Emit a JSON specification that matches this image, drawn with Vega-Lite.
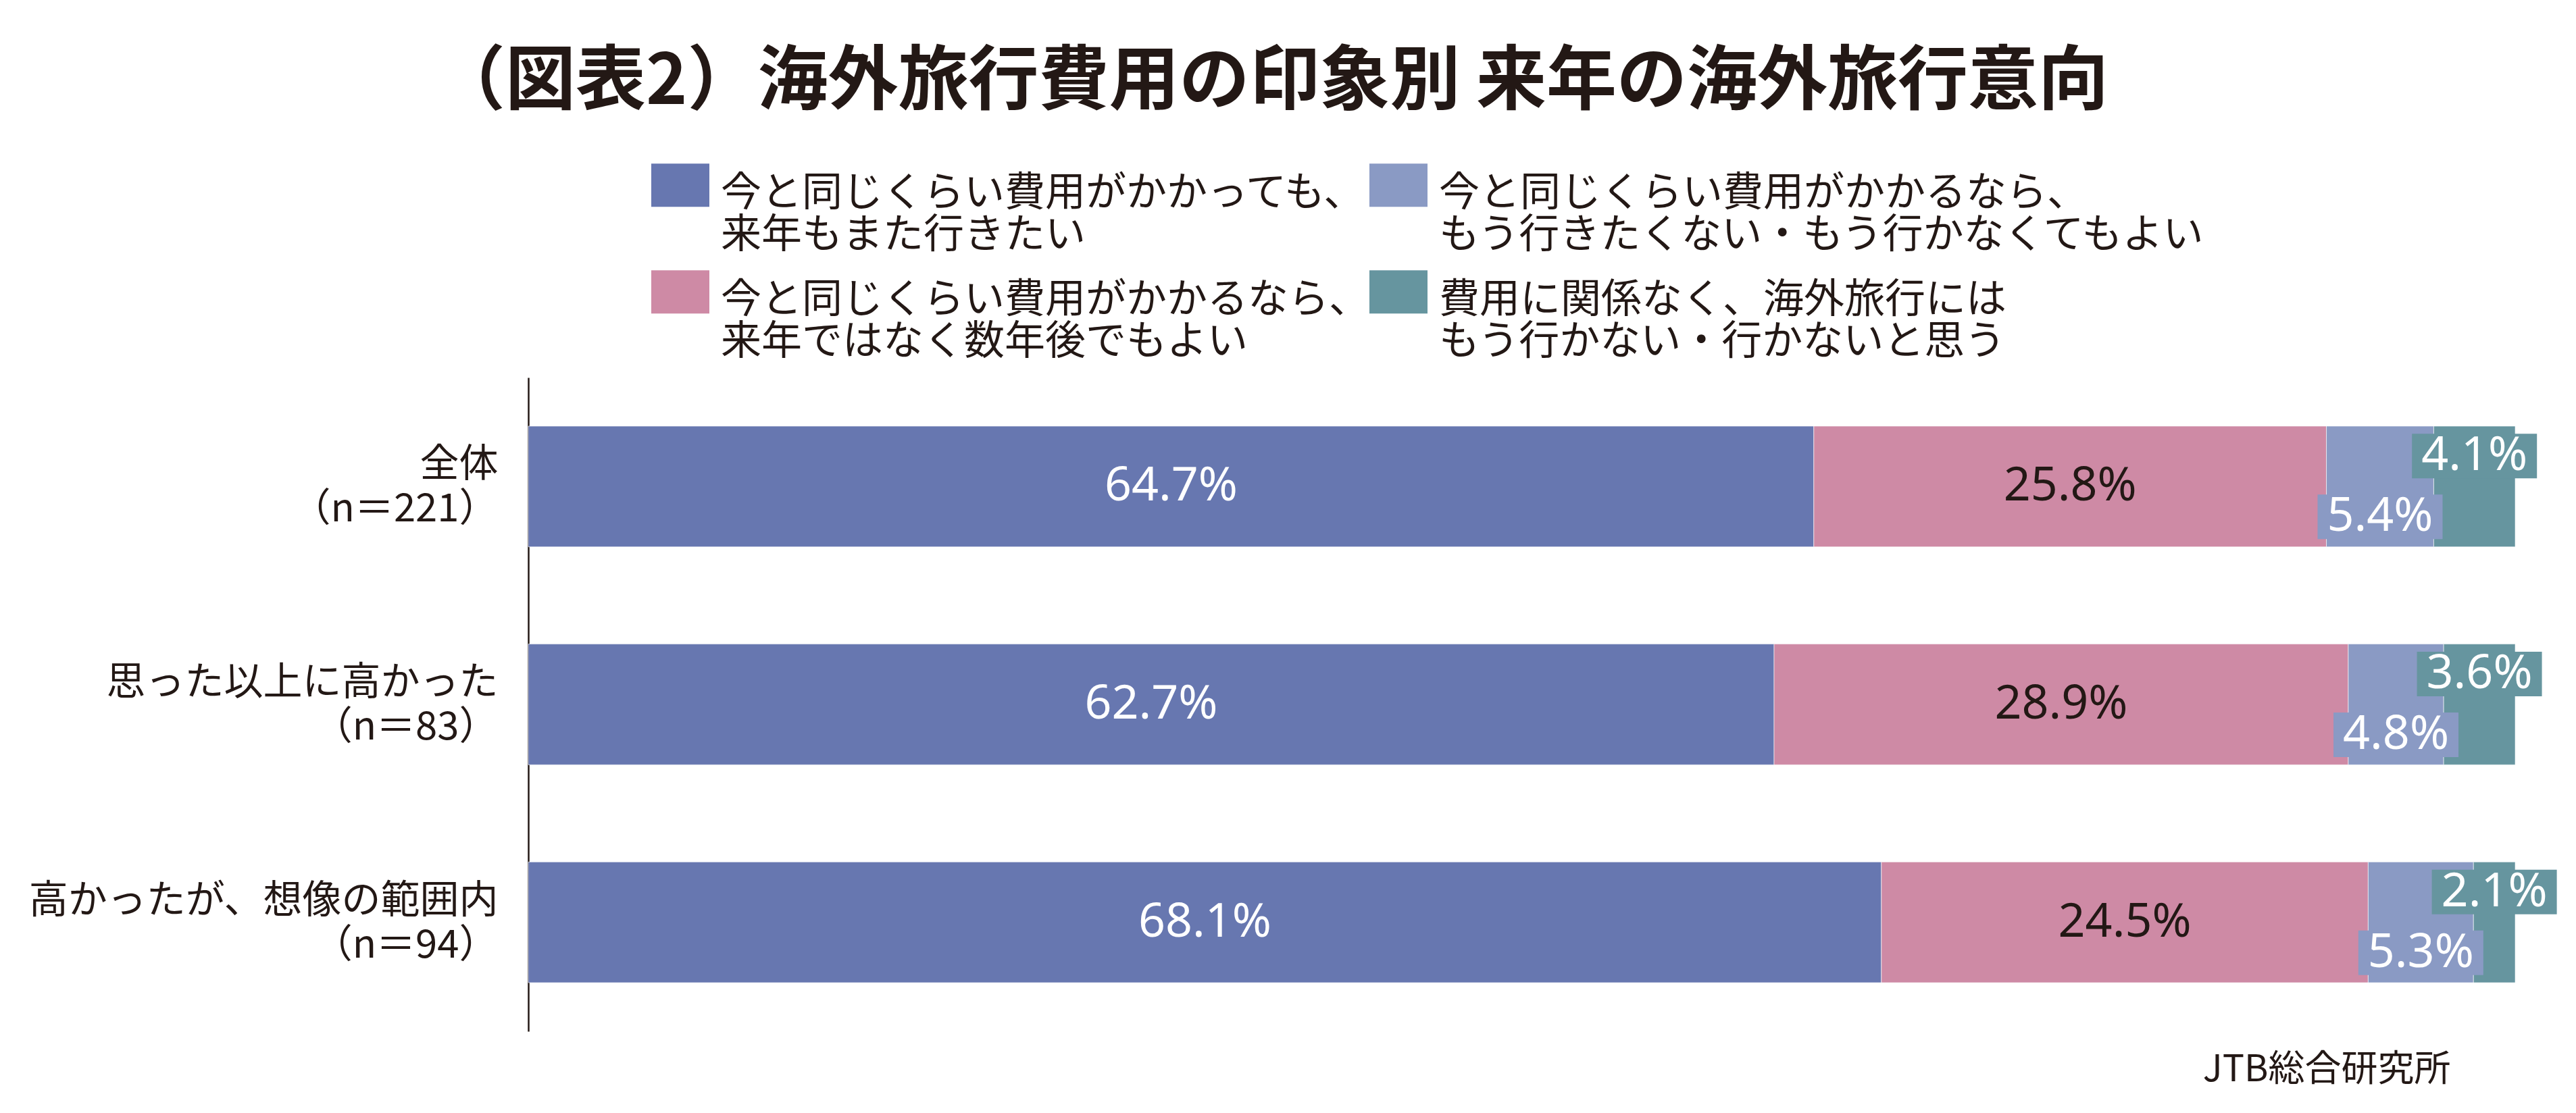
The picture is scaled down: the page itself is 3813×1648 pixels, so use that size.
{
  "$schema": "https://vega.github.io/schema/vega-lite/v6.json",
  "autosize": {"type": "none"},
  "width": 2941,
  "height": 968,
  "padding": {"left": 782, "top": 559, "right": 90, "bottom": 121},
  "background": "#ffffff",
  "config": {"view": {"stroke": null}},
  "title": {
    "text": "（図表2）海外旅行費用の印象別 来年の海外旅行意向",
    "font": "Noto Sans CJK JP",
    "fontWeight": "bold",
    "fontSize": 104,
    "color": "#231815",
    "anchor": "middle",
    "frame": "group",
    "dx": -370,
    "offset": 68
  },
  "data": {
    "values": [
      {"group": "全体\n（n＝221）", "category": "今と同じくらい費用がかかっても、\n来年もまた行きたい", "value": 0.647},
      {"group": "全体\n（n＝221）", "category": "今と同じくらい費用がかかるなら、\n来年ではなく数年後でもよい", "value": 0.258},
      {"group": "全体\n（n＝221）", "category": "今と同じくらい費用がかかるなら、\nもう行きたくない・もう行かなくてもよい", "value": 0.054},
      {"group": "全体\n（n＝221）", "category": "費用に関係なく、海外旅行には\nもう行かない・行かないと思う", "value": 0.041},
      {"group": "思った以上に高かった\n（n＝83）", "category": "今と同じくらい費用がかかっても、\n来年もまた行きたい", "value": 0.627},
      {"group": "思った以上に高かった\n（n＝83）", "category": "今と同じくらい費用がかかるなら、\n来年ではなく数年後でもよい", "value": 0.289},
      {"group": "思った以上に高かった\n（n＝83）", "category": "今と同じくらい費用がかかるなら、\nもう行きたくない・もう行かなくてもよい", "value": 0.048},
      {"group": "思った以上に高かった\n（n＝83）", "category": "費用に関係なく、海外旅行には\nもう行かない・行かないと思う", "value": 0.036},
      {"group": "高かったが、想像の範囲内\n（n＝94）", "category": "今と同じくらい費用がかかっても、\n来年もまた行きたい", "value": 0.681},
      {"group": "高かったが、想像の範囲内\n（n＝94）", "category": "今と同じくらい費用がかかるなら、\n来年ではなく数年後でもよい", "value": 0.245},
      {"group": "高かったが、想像の範囲内\n（n＝94）", "category": "今と同じくらい費用がかかるなら、\nもう行きたくない・もう行かなくてもよい", "value": 0.053},
      {"group": "高かったが、想像の範囲内\n（n＝94）", "category": "費用に関係なく、海外旅行には\nもう行かない・行かないと思う", "value": 0.021}
    ]
  },
  "transform": [
    {"calculate": "indexof(['今と同じくらい費用がかかっても、\\n来年もまた行きたい', '今と同じくらい費用がかかるなら、\\n来年ではなく数年後でもよい', '今と同じくらい費用がかかるなら、\\nもう行きたくない・もう行かなくてもよい', '費用に関係なく、海外旅行には\\nもう行かない・行かないと思う'], datum.category)", "as": "ord"},
    {"stack": "value", "groupby": ["group"], "sort": [{"field": "ord", "order": "ascending"}], "as": ["v0", "v1"]},
    {"calculate": "(datum.v0 + datum.v1) / 2", "as": "mid"}
  ],
  "encoding": {
    "y": {
      "field": "group",
      "type": "nominal",
      "sort": null,
      "scale": {"paddingInner": 0.446, "paddingOuter": 0.223},
      "axis": {
        "title": null,
        "labelExpr": "split(datum.label, '\\n')",
        "labelFont": "Noto Sans CJK JP",
        "labelFontSize": 58,
        "labelLineHeight": 66,
        "labelColor": "#231815",
        "labelPadding": 45,
        "labelOffset": -31,
        "labelLimit": 2000,
        "ticks": false,
        "domain": true,
        "domainColor": "#231815",
        "domainWidth": 2.5,
        "grid": false,
        "labelAlign": "right",
        "labelBaseline": "middle"
      }
    }
  },
  "layer": [
    {
      "mark": {"type": "bar", "stroke": "#ffffff", "strokeWidth": 1, "strokeOpacity": 0.6},
      "encoding": {
        "x": {
          "field": "v0",
          "type": "quantitative",
          "scale": {"domain": [0, 1], "nice": false, "zero": true},
          "axis": {
            "title": "JTB総合研究所",
            "titleFont": "Noto Sans CJK JP",
            "titleFontSize": 54,
            "titleFontWeight": "normal",
            "titleColor": "#231815",
            "titleAnchor": "end",
            "titleAlign": "right",
            "titleBaseline": "alphabetic",
            "titleX": 2845,
            "titleY": 73,
            "labels": false,
            "ticks": false,
            "domain": false,
            "grid": false
          }
        },
        "x2": {"field": "v1"},
        "color": {
          "field": "category",
          "type": "nominal",
          "scale": {
            "domain": [
              "今と同じくらい費用がかかっても、\n来年もまた行きたい",
              "今と同じくらい費用がかかるなら、\n来年ではなく数年後でもよい",
              "今と同じくらい費用がかかるなら、\nもう行きたくない・もう行かなくてもよい",
              "費用に関係なく、海外旅行には\nもう行かない・行かないと思う"
            ],
            "range": ["#6777b0", "#ce8aa5", "#8a9ac4", "#66959f"]
          },
          "legend": {
            "title": null,
            "orient": "none",
            "legendX": 182,
            "legendY": -315,
            "columns": 2,
            "labelExpr": "split(datum.label, '\\n')",
            "symbolType": "M-1,-1.04H1V0.45H-1Z",
            "symbolSize": 7396,
            "symbolStrokeWidth": 0,
            "symbolOpacity": 1,
            "labelFont": "Noto Sans CJK JP",
            "labelFontSize": 60,
            "labelColor": "#231815",
            "labelLimit": 3000,
            "labelOffset": 17,
            "labelBaseline": "middle",
            "columnPadding": -11,
            "rowPadding": 21,
            "padding": 0
          }
        }
      }
    },
    {
      "transform": [{"filter": "datum.ord == 0"}],
      "mark": {"type": "text", "font": "Noto Sans", "fontSize": 70, "color": "#ffffff", "baseline": "middle", "align": "center"},
      "encoding": {
        "x": {"field": "mid", "type": "quantitative"},
        "text": {"field": "value", "type": "quantitative", "format": ".1%"}
      }
    },
    {
      "transform": [{"filter": "datum.ord == 1"}],
      "mark": {"type": "text", "font": "Noto Sans", "fontSize": 70, "color": "#231815", "baseline": "middle", "align": "center"},
      "encoding": {
        "x": {"field": "mid", "type": "quantitative"},
        "text": {"field": "value", "type": "quantitative", "format": ".1%"}
      }
    },
    {
      "transform": [{"filter": "datum.ord == 2"}],
      "mark": {"type": "point", "shape": "M-1,-0.357H1V0.357H-1Z", "size": 34225, "filled": true, "opacity": 1, "color": "#8a9ac4", "strokeWidth": 0, "yOffset": 45},
      "encoding": {
        "x": {"field": "mid", "type": "quantitative"}
      }
    },
    {
      "transform": [{"filter": "datum.ord == 2"}],
      "mark": {"type": "text", "font": "Noto Sans", "fontSize": 70, "color": "#ffffff", "baseline": "middle", "align": "center", "yOffset": 45},
      "encoding": {
        "x": {"field": "mid", "type": "quantitative"},
        "text": {"field": "value", "type": "quantitative", "format": ".1%"}
      }
    },
    {
      "transform": [{"filter": "datum.ord == 3"}],
      "mark": {"type": "point", "shape": "M-1,-0.357H1V0.357H-1Z", "size": 34225, "filled": true, "opacity": 1, "color": "#66959f", "strokeWidth": 0, "yOffset": -45},
      "encoding": {
        "x": {"field": "mid", "type": "quantitative"}
      }
    },
    {
      "transform": [{"filter": "datum.ord == 3"}],
      "mark": {"type": "text", "font": "Noto Sans", "fontSize": 70, "color": "#ffffff", "baseline": "middle", "align": "center", "yOffset": -45},
      "encoding": {
        "x": {"field": "mid", "type": "quantitative"},
        "text": {"field": "value", "type": "quantitative", "format": ".1%"}
      }
    }
  ]
}
